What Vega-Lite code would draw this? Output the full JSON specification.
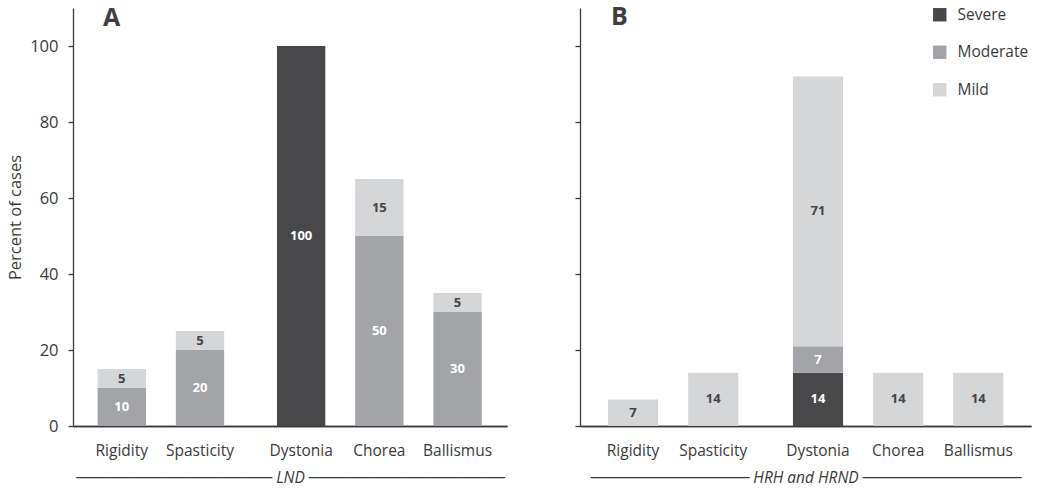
{
  "$schema": "https://vega.github.io/schema/vega-lite/v6.json",
  "padding": {"left": 7, "top": 5, "right": 5, "bottom": 0},
  "spacing": 61,
  "config": {"view": {"stroke": null}, "font": "Open Sans"},
  "data": {"values": [
    {"panel": "A", "category": "Rigidity", "severity": "Moderate", "value": 10},
    {"panel": "A", "category": "Rigidity", "severity": "Mild", "value": 5},
    {"panel": "A", "category": "Spasticity", "severity": "Moderate", "value": 20},
    {"panel": "A", "category": "Spasticity", "severity": "Mild", "value": 5},
    {"panel": "A", "category": "Dystonia", "severity": "Severe", "value": 100},
    {"panel": "A", "category": "Chorea", "severity": "Moderate", "value": 50},
    {"panel": "A", "category": "Chorea", "severity": "Mild", "value": 15},
    {"panel": "A", "category": "Ballismus", "severity": "Moderate", "value": 30},
    {"panel": "A", "category": "Ballismus", "severity": "Mild", "value": 5},
    {"panel": "B", "category": "Rigidity", "severity": "Mild", "value": 7},
    {"panel": "B", "category": "Spasticity", "severity": "Mild", "value": 14},
    {"panel": "B", "category": "Dystonia", "severity": "Severe", "value": 14},
    {"panel": "B", "category": "Dystonia", "severity": "Moderate", "value": 7},
    {"panel": "B", "category": "Dystonia", "severity": "Mild", "value": 71},
    {"panel": "B", "category": "Chorea", "severity": "Mild", "value": 14},
    {"panel": "B", "category": "Ballismus", "severity": "Mild", "value": 14}
  ]},
  "transform": [
    {"stack": "value", "groupby": ["panel", "category"], "sort": [{"field": "severity", "order": "descending"}], "as": ["v0", "v1"]}
  ],
  "resolve": {"scale": {"color": "independent", "x": "independent"}, "legend": {"color": "independent"}},
  "hconcat": [
    {
      "width": 434,
      "height": 418,
      "title": {"text": "A", "anchor": "start", "frame": "group", "offset": -23, "dx": 30, "fontSize": 25, "fontWeight": "bold", "color": "#3e3e40", "font": "Open Sans"},
      "transform": [{"filter": {"field": "panel", "equal": "A"}}],
      "encoding": {
        "y": {"field": "v1", "type": "quantitative", "title": "Percent of cases", "scale": {"domain": [0, 110], "nice": false},
          "axis": {"values": [0, 20, 40, 60, 80, 100], "grid": false, "titleFontSize": 16.5, "titleFontWeight": "normal", "titleColor": "#3a3a3a", "titlePadding": 6, "labelFontSize": 16.5, "labelColor": "#3a3a3a", "labelPadding": 10, "tickSize": 5, "tickColor": "#3a3a3a", "domainColor": "#3a3a3a", "domainWidth": 1.3, "tickWidth": 1.3}}
      },
      "resolve": {"scale": {"x": "independent"}},
      "layer": [
        {
          "transform": [{"filter": {"field": "category", "oneOf": ["Rigidity", "Spasticity"]}}],
          "encoding": {
            "x": {"field": "category", "type": "nominal",
              "scale": {"domain": ["Rigidity", "Spasticity", "_s1", "_s2"], "paddingInner": 0.382, "paddingOuter": 0.966, "align": 0.163, "round": false},
              "axis": {"orient": "bottom", "values": ["Rigidity", "Spasticity"], "title": "─────────────────────   LND   ─────────────────────", "titleFont": "Open Sans, DejaVu Sans", "titleFontStyle": "italic", "titleFontWeight": "normal", "titleFontSize": 15.5, "titleColor": "#3a3a3a", "titlePadding": 12, "labelAngle": 0, "labelFontSize": 15.5, "labelColor": "#3a3a3a", "labelPadding": 17, "ticks": false, "domainColor": "#3a3a3a", "domainWidth": 1.3}}
          },
          "layer": [
            {"mark": {"type": "bar"}, "encoding": {"y2": {"field": "v0"}, "color": {"field": "severity", "type": "nominal", "scale": {"domain": ["Severe", "Moderate", "Mild"], "range": ["#48484a", "#a3a4a7", "#d5d6d8"]}, "legend": null}}},
            {"transform": [{"fold": ["v0", "v1"], "as": ["edge", "pos"]}, {"aggregate": [{"op": "mean", "field": "pos", "as": "mid"}], "groupby": ["panel", "category", "severity", "value"]}],
             "mark": {"type": "text", "fontSize": 13, "fontWeight": "bold", "baseline": "middle"}, "encoding": {"y": {"field": "mid", "type": "quantitative", "title": "Percent of cases"}, "text": {"field": "value", "type": "quantitative"}, "color": {"condition": {"test": "datum.severity === 'Mild'", "value": "#454547"}, "value": "#ffffff"}}}
          ]
        },
        {
          "transform": [{"filter": {"field": "category", "oneOf": ["Dystonia", "Chorea", "Ballismus"]}}],
          "encoding": {
            "x": {"field": "category", "type": "nominal",
              "scale": {"domain": ["_s0", "Dystonia", "Chorea", "Ballismus"], "paddingInner": 0.382, "paddingOuter": 0.966, "align": 0.8326, "round": false},
              "axis": {"orient": "bottom", "values": ["Dystonia", "Chorea", "Ballismus"], "title": null, "labelAngle": 0, "labelFontSize": 15.5, "labelColor": "#3a3a3a", "labelPadding": 17, "ticks": false, "domainColor": "#3a3a3a", "domainWidth": 1.3}}
          },
          "layer": [
            {"mark": {"type": "bar"}, "encoding": {"y2": {"field": "v0"}, "color": {"field": "severity", "type": "nominal", "scale": {"domain": ["Severe", "Moderate", "Mild"], "range": ["#48484a", "#a3a4a7", "#d5d6d8"]}, "legend": null}}},
            {"transform": [{"fold": ["v0", "v1"], "as": ["edge", "pos"]}, {"aggregate": [{"op": "mean", "field": "pos", "as": "mid"}], "groupby": ["panel", "category", "severity", "value"]}],
             "mark": {"type": "text", "fontSize": 13, "fontWeight": "bold", "baseline": "middle"}, "encoding": {"y": {"field": "mid", "type": "quantitative", "title": "Percent of cases"}, "text": {"field": "value", "type": "quantitative"}, "color": {"condition": {"test": "datum.severity === 'Mild'", "value": "#454547"}, "value": "#ffffff"}}}
          ]
        }
      ]
    },
    {
      "width": 451,
      "height": 418,
      "title": {"text": "B", "anchor": "start", "frame": "group", "offset": -23, "dx": 31, "fontSize": 25, "fontWeight": "bold", "color": "#3e3e40", "font": "Open Sans"},
      "transform": [{"filter": {"field": "panel", "equal": "B"}}],
      "encoding": {
        "y": {"field": "v1", "type": "quantitative", "title": null, "scale": {"domain": [0, 110], "nice": false},
          "axis": {"values": [0, 20, 40, 60, 80, 100], "grid": false, "title": null, "labels": false, "tickSize": 5, "tickColor": "#3a3a3a", "domainColor": "#3a3a3a", "domainWidth": 1.3, "tickWidth": 1.3}}
      },
      "resolve": {"scale": {"x": "independent"}},
      "layer": [
        {
          "transform": [{"filter": {"field": "category", "oneOf": ["Rigidity", "Spasticity"]}}],
          "encoding": {
            "x": {"field": "category", "type": "nominal",
              "scale": {"domain": ["Rigidity", "Spasticity", "_s1", "_s2"], "paddingInner": 0.375, "paddingOuter": 1, "align": 0.1746, "round": false},
              "axis": {"orient": "bottom", "values": ["Rigidity", "Spasticity"], "title": "─────────────────   HRH and HRND   ─────────────────", "titleFont": "Open Sans, DejaVu Sans", "titleFontStyle": "italic", "titleFontWeight": "normal", "titleFontSize": 15.5, "titleColor": "#3a3a3a", "titlePadding": 12, "labelAngle": 0, "labelFontSize": 15.5, "labelColor": "#3a3a3a", "labelPadding": 17, "ticks": false, "domainColor": "#3a3a3a", "domainWidth": 1.3}}
          },
          "layer": [
            {"mark": {"type": "bar"}, "encoding": {"y2": {"field": "v0"}, "color": {"field": "severity", "type": "nominal", "scale": {"domain": ["Severe", "Moderate", "Mild"], "range": ["#48484a", "#a3a4a7", "#d5d6d8"]},
              "legend": {"title": null, "orient": "none", "legendX": 352, "legendY": -1, "padding": 0, "symbolType": "square", "symbolSize": 180, "symbolStrokeWidth": 0, "labelFontSize": 15.5, "labelColor": "#3a3a3a", "labelOffset": 10, "rowPadding": 20.5}}}},
            {"transform": [{"fold": ["v0", "v1"], "as": ["edge", "pos"]}, {"aggregate": [{"op": "mean", "field": "pos", "as": "mid"}], "groupby": ["panel", "category", "severity", "value"]}],
             "mark": {"type": "text", "fontSize": 13, "fontWeight": "bold", "baseline": "middle"}, "encoding": {"y": {"field": "mid", "type": "quantitative", "title": null}, "text": {"field": "value", "type": "quantitative"}, "color": {"condition": {"test": "datum.severity === 'Mild'", "value": "#454547"}, "value": "#ffffff"}}}
          ]
        },
        {
          "transform": [{"filter": {"field": "category", "oneOf": ["Dystonia", "Chorea", "Ballismus"]}}],
          "encoding": {
            "x": {"field": "category", "type": "nominal",
              "scale": {"domain": ["_s0", "Dystonia", "Chorea", "Ballismus"], "paddingInner": 0.375, "paddingOuter": 1, "align": 0.828, "round": false},
              "axis": {"orient": "bottom", "values": ["Dystonia", "Chorea", "Ballismus"], "title": null, "labelAngle": 0, "labelFontSize": 15.5, "labelColor": "#3a3a3a", "labelPadding": 17, "ticks": false, "domainColor": "#3a3a3a", "domainWidth": 1.3}}
          },
          "layer": [
            {"mark": {"type": "bar"}, "encoding": {"y2": {"field": "v0"}, "color": {"field": "severity", "type": "nominal", "scale": {"domain": ["Severe", "Moderate", "Mild"], "range": ["#48484a", "#a3a4a7", "#d5d6d8"]},
              "legend": {"title": null, "orient": "none", "legendX": 352, "legendY": -1, "padding": 0, "symbolType": "square", "symbolSize": 180, "symbolStrokeWidth": 0, "labelFontSize": 15.5, "labelColor": "#3a3a3a", "labelOffset": 10, "rowPadding": 20.5}}}},
            {"transform": [{"fold": ["v0", "v1"], "as": ["edge", "pos"]}, {"aggregate": [{"op": "mean", "field": "pos", "as": "mid"}], "groupby": ["panel", "category", "severity", "value"]}],
             "mark": {"type": "text", "fontSize": 13, "fontWeight": "bold", "baseline": "middle"}, "encoding": {"y": {"field": "mid", "type": "quantitative", "title": null}, "text": {"field": "value", "type": "quantitative"}, "color": {"condition": {"test": "datum.severity === 'Mild'", "value": "#454547"}, "value": "#ffffff"}}}
          ]
        }
      ]
    }
  ]
}
